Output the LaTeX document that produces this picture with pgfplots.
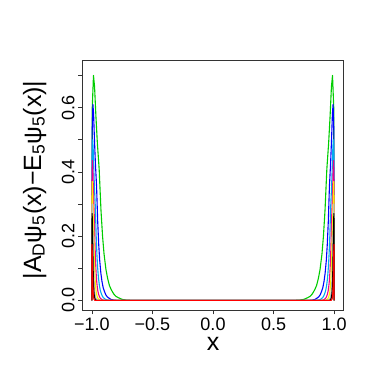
\documentclass[border=0pt]{standalone}
\usepackage{pgfplots}
\pgfplotsset{compat=1.18}
\usepackage{fontspec}
\setmainfont{Liberation Sans}
\definecolor{rgreen}{RGB}{0,205,0}
\definecolor{rgray}{RGB}{190,190,190}
\begin{document}
\begin{tikzpicture}
\useasboundingbox (0,0) rectangle (382pt,382pt);
\begin{axis}[at={(82.7pt,72pt)}, anchor=south west,
  width=260.6pt, height=250pt, scale only axis,
  xmin=-1.076, xmax=1.076, ymin=-0.03, ymax=0.748,
  xtick={-1,-0.5,0,0.5,1}, xticklabels={−1.0,−0.5,0.0,0.5,1.0},
  ytick={0,0.1,0.2,0.3,0.4,0.5,0.6,0.7}, yticklabels={0.0,,0.2,,0.4,,0.6,},
  xtick pos=bottom, ytick pos=left,
  tick align=outside, major tick length=4.5pt,
  tick style={black!80, line width=0.6pt},
  axis line style={line width=0.8pt, black!80},
  ticklabel style={font=\fontsize{18}{18}\selectfont},
  yticklabel style={rotate=90, anchor=south},
  xlabel={x}, ylabel={|A\textsubscript{D}ψ\textsubscript{5}(x)−E\textsubscript{5}ψ\textsubscript{5}(x)|},
  label style={font=\fontsize{25}{25}\selectfont},
  xlabel style={at={(axis description cs:0.5,0)}, anchor=base, inner sep=0pt, yshift=-40.5pt},
  ylabel style={at={(axis description cs:-0.16,0.52)}, anchor=base, inner sep=0pt},
  every axis plot/.append style={line width=1.1pt, no markers, line join=round},
]
% green
\addplot[rgreen] coordinates {(-1,0) (-0.997,0.60) (-0.987,0.70) (-0.978,0.665) (-0.967,0.574) (-0.955,0.49) (-0.94,0.408) (-0.925,0.28) (-0.912,0.20) (-0.90,0.145) (-0.884,0.096) (-0.87,0.068) (-0.855,0.046) (-0.84,0.033) (-0.82,0.020) (-0.80,0.012) (-0.78,0.008) (-0.75,0.003) (-0.72,0.001) (-0.68,0)
(0.68,0) (0.72,0.001) (0.75,0.003) (0.78,0.008) (0.80,0.012) (0.82,0.020) (0.84,0.033) (0.855,0.046) (0.87,0.068) (0.884,0.096) (0.90,0.145) (0.912,0.20) (0.925,0.28) (0.94,0.408) (0.955,0.49) (0.967,0.574) (0.978,0.665) (0.987,0.70) (0.997,0.60) (1,0)};
% blue
\addplot[blue] coordinates {(-1,0) (-0.9981,0.523) (-0.9917,0.61) (-0.9859,0.579) (-0.9789,0.500) (-0.9712,0.427) (-0.9616,0.356) (-0.952,0.244) (-0.9437,0.174) (-0.936,0.126) (-0.9258,0.084) (-0.9168,0.059) (-0.9072,0.040) (-0.8976,0.029) (-0.8848,0.017) (-0.872,0.0105) (-0.8592,0.007) (-0.84,0.0026) (-0.8208,0.0009) (-0.7952,0)
(0.7952,0) (0.8208,0.0009) (0.84,0.0026) (0.8592,0.007) (0.872,0.0105) (0.8848,0.017) (0.8976,0.029) (0.9072,0.040) (0.9168,0.059) (0.9258,0.084) (0.936,0.126) (0.9437,0.174) (0.952,0.244) (0.9616,0.356) (0.9712,0.427) (0.9789,0.500) (0.9859,0.579) (0.9917,0.61) (0.9981,0.523) (1,0)};
% cyan
\addplot[cyan] coordinates {(-1,0) (-0.9986,0.429) (-0.9939,0.50) (-0.9897,0.475) (-0.9845,0.410) (-0.9788,0.350) (-0.9718,0.291) (-0.9647,0.200) (-0.9586,0.143) (-0.953,0.1035) (-0.9455,0.0686) (-0.9389,0.0486) (-0.9318,0.0329) (-0.9248,0.0236) (-0.9154,0.0143) (-0.906,0.0086) (-0.8966,0.0057) (-0.8825,0.0021) (-0.8684,0.0007) (-0.8496,0)
(0.8496,0) (0.8684,0.0007) (0.8825,0.0021) (0.8966,0.0057) (0.906,0.0086) (0.9154,0.0143) (0.9248,0.0236) (0.9318,0.0329) (0.9389,0.0486) (0.9455,0.0686) (0.953,0.1035) (0.9586,0.143) (0.9647,0.200) (0.9718,0.291) (0.9788,0.350) (0.9845,0.410) (0.9897,0.475) (0.9939,0.50) (0.9986,0.429) (1,0)};
% magenta
\addplot[magenta] coordinates {(-1,0) (-0.999,0.373) (-0.9956,0.435) (-0.9925,0.413) (-0.9888,0.357) (-0.9847,0.304) (-0.9796,0.254) (-0.9745,0.174) (-0.9701,0.124) (-0.966,0.090) (-0.9606,0.0597) (-0.9558,0.0423) (-0.9507,0.0286) (-0.9456,0.0205) (-0.9388,0.0124) (-0.932,0.0075) (-0.9252,0.005) (-0.915,0.0019) (-0.9048,0.0006) (-0.8912,0)
(0.8912,0) (0.9048,0.0006) (0.915,0.0019) (0.9252,0.005) (0.932,0.0075) (0.9388,0.0124) (0.9456,0.0205) (0.9507,0.0286) (0.9558,0.0423) (0.9606,0.0597) (0.966,0.090) (0.9701,0.124) (0.9745,0.174) (0.9796,0.254) (0.9847,0.304) (0.9888,0.357) (0.9925,0.413) (0.9956,0.435) (0.999,0.373) (1,0)};
% yellow
\addplot[yellow] coordinates {(-1,0) (-0.99925,0.317) (-0.99675,0.37) (-0.9945,0.352) (-0.99175,0.303) (-0.98875,0.259) (-0.985,0.216) (-0.98125,0.148) (-0.978,0.106) (-0.975,0.0766) (-0.971,0.0507) (-0.9675,0.0359) (-0.96375,0.0243) (-0.96,0.0174) (-0.955,0.0106) (-0.95,0.0063) (-0.945,0.0042) (-0.9375,0.0016) (-0.93,0.0005) (-0.92,0)
(0.92,0) (0.93,0.0005) (0.9375,0.0016) (0.945,0.0042) (0.95,0.0063) (0.955,0.0106) (0.96,0.0174) (0.96375,0.0243) (0.9675,0.0359) (0.971,0.0507) (0.975,0.0766) (0.978,0.106) (0.98125,0.148) (0.985,0.216) (0.98875,0.259) (0.99175,0.303) (0.9945,0.352) (0.99675,0.37) (0.99925,0.317) (1,0)};
% gray
\addplot[rgray] coordinates {(-1,0) (-0.9995,0.257) (-0.9977,0.30) (-0.996,0.285) (-0.9941,0.246) (-0.9919,0.210) (-0.9892,0.175) (-0.9865,0.120) (-0.9842,0.0857) (-0.982,0.0621) (-0.9791,0.0411) (-0.9766,0.0291) (-0.9739,0.0197) (-0.9712,0.0141) (-0.9676,0.0086) (-0.964,0.0051) (-0.9604,0.0034) (-0.955,0.0013) (-0.9496,0.0004) (-0.9424,0)
(0.9424,0) (0.9496,0.0004) (0.955,0.0013) (0.9604,0.0034) (0.964,0.0051) (0.9676,0.0086) (0.9712,0.0141) (0.9739,0.0197) (0.9766,0.0291) (0.9791,0.0411) (0.982,0.0621) (0.9842,0.0857) (0.9865,0.120) (0.9892,0.175) (0.9919,0.210) (0.9941,0.246) (0.996,0.285) (0.9977,0.30) (0.9995,0.257) (1,0)};
% black
\addplot[black] coordinates {(-1,0) (-0.9996,0.231) (-0.9983,0.27) (-0.9971,0.256) (-0.9957,0.221) (-0.9941,0.189) (-0.9922,0.157) (-0.9902,0.108) (-0.9886,0.0771) (-0.987,0.0559) (-0.9849,0.037) (-0.9831,0.0262) (-0.9811,0.0177) (-0.9792,0.0127) (-0.9766,0.0077) (-0.974,0.0046) (-0.9714,0.0031) (-0.9675,0.0012) (-0.9636,0.0004) (-0.9584,0)
(0.9584,0) (0.9636,0.0004) (0.9675,0.0012) (0.9714,0.0031) (0.974,0.0046) (0.9766,0.0077) (0.9792,0.0127) (0.9811,0.0177) (0.9831,0.0262) (0.9849,0.037) (0.987,0.0559) (0.9886,0.0771) (0.9902,0.108) (0.9922,0.157) (0.9941,0.189) (0.9957,0.221) (0.9971,0.256) (0.9983,0.27) (0.9996,0.231) (1,0)};
% red
\addplot[red] coordinates {(-1,0) (-0.9997,0.149) (-0.9988,0.174) (-0.998,0.165) (-0.997,0.143) (-0.996,0.122) (-0.9946,0.101) (-0.9933,0.0696) (-0.9921,0.0497) (-0.991,0.036) (-0.9896,0.0239) (-0.9883,0.0169) (-0.987,0.0114) (-0.9856,0.0082) (-0.9838,0.005) (-0.982,0.003) (-0.9802,0.002) (-0.9775,0.0007) (-0.9748,0.0002) (-0.9712,0)
(0.9712,0) (0.9748,0.0002) (0.9775,0.0007) (0.9802,0.002) (0.982,0.003) (0.9838,0.005) (0.9856,0.0082) (0.987,0.0114) (0.9883,0.0169) (0.9896,0.0239) (0.991,0.036) (0.9921,0.0497) (0.9933,0.0696) (0.9946,0.101) (0.996,0.122) (0.997,0.143) (0.998,0.165) (0.9988,0.174) (0.9997,0.149) (1,0)};
\end{axis}
\end{tikzpicture}
\end{document}
